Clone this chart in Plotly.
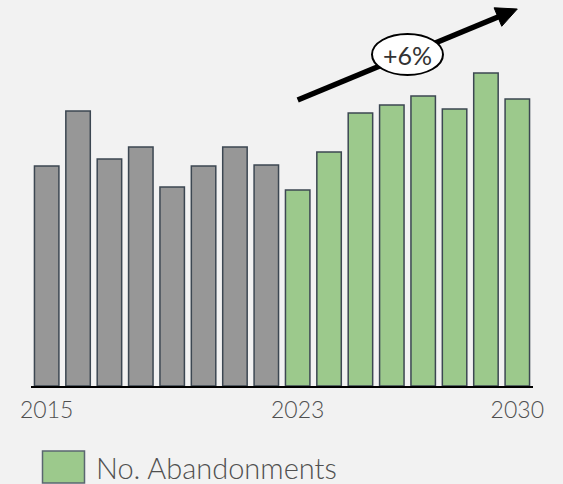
import numpy as np
import plotly.graph_objects as go

# Annual well abandonments: history through 2022, outlook from 2023
years = list(range(2015, 2031))
abandonments = [220, 275, 227, 239, 199, 220, 239, 221, 196, 234, 273, 281, 290, 277, 313, 287]
forecast_start = 2023
tick_years = [2015, 2023, 2030]
tick_labels = ["2015", "2023", "2030"]
growth_label = "+6%"
legend_label = "No. Abandonments"

GRAY = "#979797"
GREEN = "#9cc98c"
EDGE = "#3c4752"
BG = "#f2f2f2"
TEXT = "#505050"
FONT = "Lato"

W, H = 563, 484
ML, MR, MT, MB = 31, 30, 0, 98
Y_MAX = 386
x_lo, x_hi = years[0] - 0.5, years[-1] + 0.5

colors = [GREEN if y >= forecast_start else GRAY for y in years]

fig = go.Figure(
    go.Bar(
        x=years,
        y=abandonments,
        marker=dict(color=colors, line=dict(color=EDGE, width=1.5)),
        showlegend=False,
        hoverinfo="x+y",
    )
)

# pixel scale of the plot area, used to size the arrow head and ellipse
plot_w = W - ML - MR
plot_h = H - MT - MB
px_per_x = plot_w / (x_hi - x_lo)
px_per_y = plot_h / Y_MAX

# trend arrow from the first forecast year to the last one
x0, x1 = forecast_start, years[-1]
y0, y1 = 286, 377
dx_px = (x1 - x0) * px_per_x
dy_px = (y1 - y0) * px_per_y
L = np.hypot(dx_px, dy_px)
ux, uy = dx_px / L, dy_px / L  # unit direction in pixels (y up)
nx, ny = -uy, ux
head_len, head_half = 21, 10
bx_px, by_px = -head_len * ux, -head_len * uy
base_x = x1 + bx_px / px_per_x
base_y = y1 + by_px / px_per_y
c1 = (base_x + head_half * nx / px_per_x, base_y + head_half * ny / px_per_y)
c2 = (base_x - head_half * nx / px_per_x, base_y - head_half * ny / px_per_y)

shapes = [
    dict(type="line", xref="x", yref="y", x0=x0, y0=y0, x1=base_x + 2 * ux / px_per_x,
         y1=base_y + 2 * uy / px_per_y, line=dict(color="black", width=5.5), layer="above"),
    dict(type="path", xref="x", yref="y",
         path=f"M{x1},{y1} L{c1[0]},{c1[1]} L{c2[0]},{c2[1]} Z",
         fillcolor="black", line=dict(color="black", width=1), layer="above"),
]

# ellipse badge at the middle of the arrow
cx, cy = (x0 + x1) / 2, (y0 + y1) / 2
rx_px, ry_px = 35.5, 20.5
shapes.append(dict(type="circle", xref="x", yref="y",
                   x0=cx - rx_px / px_per_x, x1=cx + rx_px / px_per_x,
                   y0=cy - ry_px / px_per_y, y1=cy + ry_px / px_per_y,
                   fillcolor="white", line=dict(color="black", width=2), layer="above"))

# legend swatch below the axis
def px_to_paper_x(px):
    return (px - ML) / plot_w

def px_to_paper_y(py):
    return (H - MB - py) / plot_h

shapes.append(dict(type="rect", xref="paper", yref="paper",
                   x0=px_to_paper_x(42.5), x1=px_to_paper_x(84.5),
                   y0=px_to_paper_y(483), y1=px_to_paper_y(451),
                   fillcolor=GREEN, line=dict(color="#5a6670", width=1.5)))

annotations = [
    dict(x=cx, y=cy, xref="x", yref="y", text=growth_label, showarrow=False,
         font=dict(family=FONT, size=25, color="#333333"), xanchor="center", yanchor="middle"),
    dict(x=px_to_paper_x(94), y=px_to_paper_y(467), xref="paper", yref="paper",
         text=legend_label, showarrow=False, xanchor="left", yanchor="middle",
         font=dict(family=FONT, size=29, color=TEXT, weight=300)),
]

fig.update_layout(
    width=W, height=H,
    margin=dict(l=ML, r=MR, t=MT, b=MB, pad=0),
    paper_bgcolor=BG, plot_bgcolor=BG,
    bargap=0.22,
    shapes=shapes,
    annotations=annotations,
    xaxis=dict(range=[x_lo, x_hi], tickvals=tick_years, ticktext=tick_labels,
               showgrid=False, zeroline=False, showline=True, linecolor="black",
               linewidth=2, ticks="", automargin=False, ticklabelstandoff=2,
               tickfont=dict(family=FONT, size=23, color=TEXT, weight=300)),
    yaxis=dict(range=[0, Y_MAX], visible=False, fixedrange=True),
)

fig.write_html("out.html")
